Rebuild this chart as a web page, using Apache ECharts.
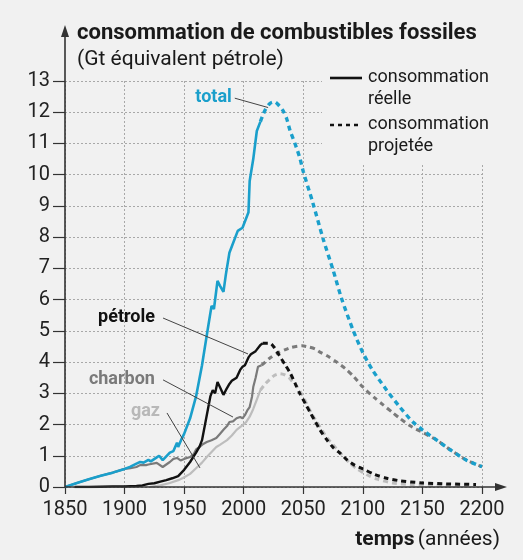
<!DOCTYPE html>
<html><head><meta charset="utf-8">
<script src="https://cdn.jsdelivr.net/npm/echarts@6/dist/echarts.min.js"></script>
<style>html,body{margin:0;padding:0;background:#f1f1f1}#c{width:523px;height:560px}</style>
</head><body><div id="c"></div>
<script>
// ---- data (Gt équivalent pétrole) ----
const totalReel = [[1850,0],[1860,0.13],[1870,0.25],[1880,0.36],[1890,0.46],[1900,0.58],[1905,0.65],[1910,0.75],[1913,0.8],[1916,0.78],[1920,0.87],[1922,0.82],[1927,0.95],[1929,1.0],[1932,0.86],[1935,0.98],[1938,1.1],[1941,1.15],[1944,1.42],[1945,1.28],[1948,1.55],[1950,1.7],[1955,2.2],[1960,2.9],[1965,3.9],[1970,5.1],[1973,5.8],[1975,5.7],[1978,6.6],[1980,6.45],[1983,6.25],[1985,6.8],[1988,7.5],[1990,7.7],[1995,8.2],[1999,8.3],[2004,8.8],[2005,9.8],[2008,10.5],[2011,11.4],[2014,11.7]];
const totalProj = [[2014,11.7],[2018,12.07],[2022,12.28],[2026,12.33],[2030,12.2],[2033,12.05],[2036,11.8],[2039,11.4],[2043,11.0],[2047,10.55],[2050,10.1],[2058,9.1],[2067,7.9],[2075,6.95],[2082,6.05],[2092,5.0],[2100,4.3],[2108,3.75],[2120,3.1],[2131,2.56],[2142,2.08],[2150,1.83],[2162,1.5],[2173,1.2],[2187,0.86],[2200,0.65]];
const petroleReel = [[1858,0],[1870,0],[1880,0.01],[1890,0.02],[1900,0.02],[1910,0.03],[1915,0.05],[1920,0.1],[1925,0.12],[1930,0.17],[1935,0.22],[1940,0.28],[1945,0.35],[1950,0.55],[1955,0.8],[1960,1.1],[1963,1.3],[1965,1.5],[1968,2.1],[1970,2.5],[1972,2.9],[1974,3.1],[1976,3.0],[1978,3.36],[1980,3.2],[1983,2.95],[1985,3.1],[1988,3.3],[1990,3.4],[1994,3.5],[1997,3.75],[1999,3.85],[2001,3.9],[2004,4.15],[2006,4.25],[2008,4.3],[2010,4.35],[2014,4.55],[2016,4.6]];
const petroleProj = [[2016,4.6],[2022,4.6],[2026,4.45],[2030,4.2],[2035,3.9],[2039,3.65],[2043,3.33],[2047,3.0],[2052,2.65],[2056,2.37],[2060,2.1],[2064,1.83],[2070,1.5],[2075,1.27],[2081,1.08],[2087,0.86],[2093,0.7],[2100,0.58],[2110,0.4],[2120,0.28],[2131,0.2],[2150,0.13],[2170,0.1],[2195,0.08]];
const charbonReel = [[1850,0],[1860,0.13],[1870,0.25],[1880,0.36],[1890,0.46],[1900,0.58],[1905,0.6],[1910,0.64],[1913,0.7],[1918,0.7],[1920,0.72],[1927,0.77],[1932,0.64],[1935,0.72],[1938,0.8],[1941,0.9],[1944,0.93],[1947,0.85],[1950,0.9],[1955,0.96],[1958,1.05],[1960,1.2],[1963,1.28],[1966,1.38],[1969,1.44],[1973,1.5],[1977,1.57],[1980,1.7],[1983,1.83],[1986,1.95],[1988,2.08],[1991,2.1],[1994,2.2],[1997,2.24],[1999,2.2],[2001,2.3],[2003,2.45],[2005,2.56],[2007,2.9],[2008,3.2],[2010,3.5],[2012,3.85],[2015,3.9]];
const charbonProj = [[2015,3.9],[2018,4.0],[2022,4.13],[2029,4.3],[2035,4.4],[2040,4.47],[2049,4.52],[2055,4.48],[2060,4.42],[2064,4.32],[2070,4.2],[2078,4.0],[2085,3.8],[2092,3.55],[2100,3.2],[2110,2.85],[2117,2.63],[2125,2.38],[2131,2.2],[2140,1.95],[2150,1.75],[2162,1.5],[2173,1.2],[2187,0.86],[2200,0.65]];
const gazReel = [[1921,0],[1930,0.05],[1938,0.13],[1945,0.22],[1949,0.29],[1955,0.42],[1960,0.6],[1965,0.78],[1969,0.96],[1973,1.12],[1977,1.28],[1980,1.35],[1986,1.5],[1990,1.65],[1994,1.83],[1998,1.95],[2002,2.08],[2005,2.25],[2008,2.5],[2011,2.8],[2014,3.1]];
const gazProj = [[2014,3.1],[2018,3.3],[2022,3.45],[2026,3.58],[2030,3.63],[2034,3.6],[2038,3.5],[2042,3.33],[2045,3.2],[2049,2.95],[2053,2.65],[2057,2.35],[2061,2.1],[2066,1.8],[2070,1.57],[2075,1.35],[2081,1.09],[2089,0.77],[2095,0.58],[2103,0.4],[2112,0.25],[2125,0.13],[2140,0.08],[2160,0.05],[2190,0.03]];

// annotation labels: [text, colour, labelAnchor, leaderStart, leaderEnd] in data coordinates
const annotations = [
  ['total',   '#1a9fcb', [1990, 12.48], [1992.5, 12.45], [2020.5, 12.15]],
  ['pétrole', '#111111', [1925.5, 5.44], [1932.3, 5.41], [2003.6, 4.26]],
  ['charbon', '#7a7a7a', [1925.5, 3.43], [1932.3, 3.43], [1991, 2.24]],
  ['gaz',     '#b8b8b8', [1929.7, 2.43], [1935.6, 2.37], [1963.3, 0.61]]
];

const BLUE = '#1a9fcb', BLACK = '#111111', GREY = '#7a7a7a', LIGHT = '#bdbdbd';
const FONT = 'Roboto';

function solid(name, data, color, w, z) {
  return {name, type:'line', data, showSymbol:false, symbol:'none', z,
    lineStyle:{color, width:w}, silent:true, animation:false};
}
function dashed(name, data, color, w, z) {
  return {name, type:'line', data, showSymbol:false, symbol:'none', smooth:0.25, z,
    lineStyle:{color, width:w, type:[5,4]}, silent:true, animation:false};
}

const chart = echarts.init(document.getElementById('c'), null, {renderer:'canvas'});
chart.setOption({
  backgroundColor:'#f1f1f1',
  animation:false,
  grid:{left:65, right:41, top:81, bottom:73, containLabel:false, outerBoundsMode:'none'},
  xAxis:{type:'value', min:1850, max:2200, interval:50,
    axisLine:{show:false},
    axisTick:{show:true, length:7, lineStyle:{color:'#333', width:1.2}},
    axisLabel:{margin:13, color:'#222', fontFamily:FONT, fontSize:20, formatter:v => String(v)},
    splitLine:{show:true, lineStyle:{color:'#a8a8a8', width:1, type:[2,2]}}},
  yAxis:{type:'value', min:0, max:13, interval:1,
    axisLine:{show:false},
    axisTick:{show:true, length:12, lineStyle:{color:'#333', width:1.2}},
    axisLabel:{margin:15, color:'#222', fontFamily:FONT, fontSize:20, formatter:v => String(v)},
    splitLine:{show:true, lineStyle:{color:'#a8a8a8', width:1, type:[2,2]}}},
  series:[
    solid('gaz', gazReel, LIGHT, 2.2, 2), dashed('gaz proj', gazProj, LIGHT, 3, 2),
    solid('charbon', charbonReel, GREY, 2.2, 3), dashed('charbon proj', charbonProj, GREY, 3, 3),
    solid('pétrole', petroleReel, BLACK, 2.4, 4), dashed('pétrole proj', petroleProj, BLACK, 3, 4),
    solid('total', totalReel, BLUE, 2.6, 5), dashed('total proj', totalProj, BLUE, 3.4, 5)
  ]
});

const px = p => chart.convertToPixel({gridIndex:0}, p);
const pO = px([1850,0]), pTop = px([1850,13]), pRight = px([2200,0]);
const ax = '#333';
const g = [];
// cover grid lines behind legend
g.push({type:'rect', z:50, shape:{x:pRight[0]-160, y:0, width:200, height:pTop[1]+83}, style:{fill:'#f1f1f1'}});
// axes with arrows
g.push({type:'line', z:60, shape:{x1:pO[0], y1:pO[1], x2:pO[0], y2:pTop[1]-46}, style:{stroke:ax, lineWidth:1.6}});
g.push({type:'polygon', z:60, shape:{points:[[pO[0], pTop[1]-56],[pO[0]-4, pTop[1]-44],[pO[0]+4, pTop[1]-44]]}, style:{fill:ax}});
g.push({type:'line', z:60, shape:{x1:pO[0], y1:pO[1], x2:pRight[0]+16, y2:pO[1]}, style:{stroke:ax, lineWidth:1.6}});
g.push({type:'polygon', z:60, shape:{points:[[pRight[0]+25, pO[1]],[pRight[0]+13, pO[1]-4],[pRight[0]+13, pO[1]+4]]}, style:{fill:ax}});
// titles
g.push({type:'text', z:60, x:77, y:33, style:{text:'consommation de combustibles fossiles', fill:'#1a1a1a', font:'bold 22px '+FONT, verticalAlign:'middle'}});
g.push({type:'text', z:60, x:77, y:60, style:{text:'(Gt équivalent pétrole)', fill:'#1a1a1a', font:'21px '+FONT, verticalAlign:'middle'}});
g.push({type:'text', z:60, x:500, y:540, style:{text:'{b|temps} {r|(années)}', align:'right', verticalAlign:'middle',
  rich:{b:{font:'bold 21px '+FONT, fill:'#1a1a1a'}, r:{font:'21px '+FONT, fill:'#1a1a1a'}}}});
// legend
g.push({type:'line', z:60, shape:{x1:330, y1:78, x2:362, y2:78}, style:{stroke:'#111', lineWidth:2.6}});
g.push({type:'line', z:60, shape:{x1:330, y1:125, x2:362, y2:125}, style:{stroke:'#111', lineWidth:2.6, lineDash:[4,4]}});
[['consommation',77],['réelle',99],['consommation',124],['projetée',146]].forEach(([t,y])=>{
  g.push({type:'text', z:60, x:368, y, style:{text:t, fill:'#1a1a1a', font:'18px '+FONT, verticalAlign:'middle'}});
});
// annotations
annotations.forEach(([t,c,lp,s,e])=>{
  const L = px(lp), S = px(s), E = px(e);
  g.push({type:'text', z:60, x:L[0], y:L[1], style:{text:t, fill:c, font:'bold 18px '+FONT, align:'right', verticalAlign:'middle'}});
  g.push({type:'line', z:60, shape:{x1:S[0], y1:S[1], x2:E[0], y2:E[1]}, style:{stroke:'#444', lineWidth:1}});
});
chart.setOption({graphic:{elements:g}});
</script></body></html>
